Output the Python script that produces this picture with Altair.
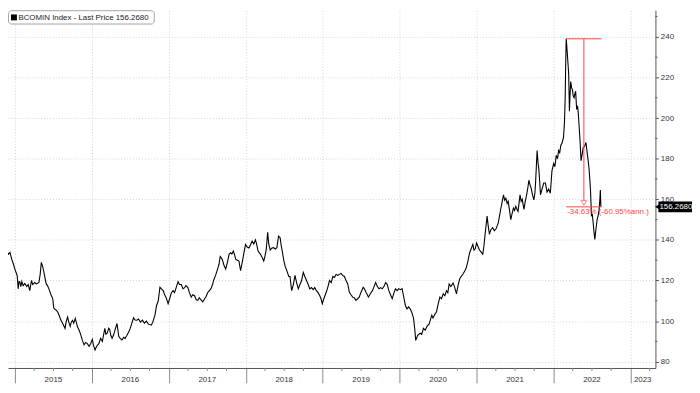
import altair as alt
import pandas as pd

# ---- data (decimal year, index level) ----
year_frac = [
    2014.807, 2014.833, 2014.859, 2014.893, 2014.914, 2014.936, 2014.958, 2014.981,
    2015.000, 2015.030, 2015.042, 2015.054, 2015.064, 2015.077, 2015.090, 2015.107,
    2015.128, 2015.154, 2015.173, 2015.193, 2015.215, 2015.231, 2015.257, 2015.279,
    2015.312, 2015.328, 2015.343, 2015.360, 2015.373, 2015.392, 2015.407, 2015.424,
    2015.450, 2015.469, 2015.492, 2015.504, 2015.514, 2015.533, 2015.556, 2015.578,
    2015.597, 2015.621, 2015.651, 2015.668, 2015.685, 2015.700, 2015.719, 2015.732,
    2015.749, 2015.764, 2015.784, 2015.797, 2015.813, 2015.835, 2015.857, 2015.877,
    2015.899, 2015.919, 2015.942, 2015.964, 2015.985, 2016.006, 2016.021, 2016.041,
    2016.060, 2016.092, 2016.114, 2016.137, 2016.156, 2016.169, 2016.182, 2016.199,
    2016.220, 2016.233, 2016.246, 2016.263, 2016.285, 2016.304, 2016.327, 2016.340,
    2016.349, 2016.368, 2016.391, 2016.413, 2016.432, 2016.456, 2016.477, 2016.499,
    2016.520, 2016.542, 2016.561, 2016.584, 2016.606, 2016.632, 2016.657, 2016.683,
    2016.709, 2016.734, 2016.773, 2016.792, 2016.820, 2016.841, 2016.863, 2016.885,
    2016.901, 2016.927, 2016.946, 2016.966, 2016.991, 2017.011, 2017.034, 2017.056,
    2017.075, 2017.098, 2017.120, 2017.139, 2017.162, 2017.184, 2017.206, 2017.223,
    2017.248, 2017.268, 2017.291, 2017.312, 2017.334, 2017.357, 2017.377, 2017.396,
    2017.419, 2017.441, 2017.463, 2017.483, 2017.505, 2017.527, 2017.548, 2017.569,
    2017.582, 2017.608, 2017.634, 2017.653, 2017.668, 2017.685, 2017.698, 2017.717,
    2017.740, 2017.762, 2017.784, 2017.805, 2017.820, 2017.839, 2017.856, 2017.869,
    2017.891, 2017.912, 2017.933, 2017.955, 2017.977, 2017.997, 2018.019, 2018.041,
    2018.061, 2018.083, 2018.105, 2018.126, 2018.141, 2018.160, 2018.190, 2018.212,
    2018.234, 2018.250, 2018.267, 2018.285, 2018.299, 2018.318, 2018.340, 2018.362,
    2018.383, 2018.405, 2018.426, 2018.447, 2018.462, 2018.478, 2018.494, 2018.511,
    2018.542, 2018.559, 2018.575, 2018.597, 2018.619, 2018.640, 2018.661, 2018.683,
    2018.704, 2018.726, 2018.748, 2018.768, 2018.790, 2018.812, 2018.832, 2018.854,
    2018.876, 2018.897, 2018.918, 2018.940, 2018.961, 2018.979, 2018.995, 2019.015,
    2019.034, 2019.047, 2019.069, 2019.089, 2019.111, 2019.133, 2019.153, 2019.175,
    2019.197, 2019.218, 2019.240, 2019.259, 2019.282, 2019.304, 2019.326, 2019.346,
    2019.368, 2019.390, 2019.410, 2019.432, 2019.454, 2019.475, 2019.496, 2019.526,
    2019.541, 2019.561, 2019.580, 2019.595, 2019.619, 2019.647, 2019.667, 2019.689,
    2019.711, 2019.732, 2019.753, 2019.775, 2019.796, 2019.818, 2019.840, 2019.860,
    2019.882, 2019.904, 2019.924, 2019.946, 2019.968, 2019.989, 2020.010, 2020.032,
    2020.053, 2020.075, 2020.096, 2020.117, 2020.139, 2020.161, 2020.181, 2020.197,
    2020.209, 2020.235, 2020.267, 2020.287, 2020.310, 2020.332, 2020.357, 2020.383,
    2020.418, 2020.434, 2020.460, 2020.479, 2020.502, 2020.524, 2020.544, 2020.567,
    2020.588, 2020.610, 2020.627, 2020.644, 2020.666, 2020.695, 2020.717, 2020.739,
    2020.759, 2020.781, 2020.800, 2020.824, 2020.845, 2020.867, 2020.888, 2020.910,
    2020.929, 2020.952, 2020.967, 2020.983, 2021.000, 2021.016, 2021.038, 2021.060,
    2021.081, 2021.096, 2021.111, 2021.137, 2021.151, 2021.167, 2021.186, 2021.209,
    2021.231, 2021.253, 2021.269, 2021.282, 2021.299, 2021.317, 2021.334, 2021.350,
    2021.366, 2021.381, 2021.398, 2021.411, 2021.427, 2021.445, 2021.462, 2021.479,
    2021.494, 2021.510, 2021.526, 2021.539, 2021.552, 2021.565, 2021.580, 2021.594,
    2021.607, 2021.616, 2021.633, 2021.651, 2021.668, 2021.680, 2021.696, 2021.710,
    2021.728, 2021.745, 2021.758, 2021.767, 2021.777, 2021.787, 2021.799, 2021.809,
    2021.822, 2021.831, 2021.851, 2021.873, 2021.895, 2021.916, 2021.937, 2021.959,
    2021.980, 2022.002, 2022.018, 2022.036, 2022.053, 2022.066, 2022.081, 2022.095,
    2022.113, 2022.130, 2022.143, 2022.152, 2022.158, 2022.165, 2022.172, 2022.181,
    2022.190, 2022.198, 2022.207, 2022.216, 2022.224, 2022.235, 2022.246, 2022.256,
    2022.268, 2022.278, 2022.288, 2022.301, 2022.313, 2022.323, 2022.333, 2022.345,
    2022.358, 2022.372, 2022.387, 2022.404, 2022.422, 2022.442, 2022.454, 2022.464,
    2022.481, 2022.494, 2022.503, 2022.516, 2022.526, 2022.537, 2022.551, 2022.567,
    2022.580, 2022.593, 2022.603, 2022.609, 2022.616,
]

price = [
    132.0, 134.0, 133.2, 134.5, 132.9, 133.8, 130.5, 128.0,
    125.6, 122.3, 115.9, 119.5, 119.3, 117.0, 119.5, 117.5,
    118.5, 117.0, 118.0, 115.0, 120.0, 118.0, 119.0, 118.3,
    119.0, 123.0, 128.9, 127.0, 124.8, 121.0, 118.3, 117.5,
    115.0, 113.0, 111.0, 106.5, 106.0, 105.5, 104.5, 102.5,
    100.5, 98.8, 96.4, 100.0, 102.0, 99.5, 97.4, 99.5,
    100.4, 99.0, 101.3, 99.5, 97.2, 95.5, 93.1, 90.5,
    88.3, 89.5, 88.9, 87.5, 89.0, 91.0, 88.0, 85.8,
    87.5, 89.0, 91.5, 90.0, 94.0, 96.4, 93.5, 94.0,
    96.5, 95.8, 93.0, 91.5, 93.5, 96.0, 98.8, 95.0,
    92.5, 91.5, 90.7, 92.0, 91.5, 93.0, 94.5, 96.4,
    99.0, 101.6, 100.5, 100.4, 101.0, 99.5, 100.5, 99.0,
    100.0, 98.5, 98.0, 99.5, 102.9, 107.7, 110.0, 116.7,
    116.0, 115.0, 113.0, 111.5, 108.6, 111.0, 114.0, 115.0,
    114.0, 116.7, 119.4, 118.0, 118.0, 116.0, 116.5, 117.5,
    116.5, 114.0, 111.8, 113.0, 112.5, 110.5, 110.2, 111.5,
    110.5, 109.5, 110.8, 112.0, 114.0, 115.0, 116.0, 118.0,
    120.0, 122.5, 125.6, 128.0, 131.8, 131.0, 130.0, 127.5,
    125.6, 129.0, 133.0, 133.7, 133.0, 134.5, 132.5, 130.5,
    130.0, 129.6, 124.8, 129.0, 133.7, 137.8, 136.5, 136.0,
    137.5, 139.4, 138.0, 140.0, 138.0, 134.5, 133.0, 131.5,
    129.6, 132.0, 135.3, 143.8, 138.0, 135.0, 136.0, 136.2,
    135.5, 136.2, 141.8, 141.0, 137.0, 133.7, 130.0, 127.2,
    124.0, 122.0, 122.0, 115.0, 118.0, 122.5, 119.0, 115.9,
    118.0, 120.0, 124.0, 122.0, 120.0, 118.0, 115.9, 116.5,
    115.5, 116.5, 115.0, 114.0, 112.6, 111.0, 108.6, 111.0,
    113.0, 114.3, 117.0, 120.0, 119.0, 122.0, 121.5, 123.0,
    122.5, 123.0, 123.5, 122.5, 122.0, 120.0, 118.3, 114.3,
    113.0, 111.8, 111.5, 110.2, 111.0, 111.8, 114.0, 116.7,
    116.0, 114.3, 113.0, 111.8, 113.5, 115.0, 117.0, 119.0,
    117.0, 115.9, 116.5, 115.9, 117.0, 119.0, 118.0, 115.0,
    113.0, 111.0, 113.5, 115.9, 115.0, 116.0, 115.5, 116.0,
    112.0, 107.7, 106.0, 107.0, 106.0, 104.0, 101.3, 96.0,
    90.5, 93.0, 94.0, 93.5, 96.4, 95.5, 97.5, 98.5,
    102.9, 101.5, 103.5, 104.5, 108.6, 111.8, 111.0, 113.4,
    112.5, 115.0, 114.0, 118.3, 117.0, 118.8, 116.5, 113.4,
    117.5, 120.7, 122.0, 123.2, 124.5, 126.4, 129.5, 133.7,
    135.5, 137.8, 135.0, 135.6, 138.5, 137.0, 135.0, 134.0,
    133.0, 137.0, 142.8, 151.7, 147.0, 142.8, 145.0, 146.0,
    144.5, 145.5, 147.0, 148.4, 152.0, 155.7, 159.0, 162.2,
    159.5, 160.5, 158.0, 159.0, 155.0, 150.0, 153.0, 155.7,
    154.5, 156.5, 155.0, 154.0, 158.0, 162.2, 159.0, 160.0,
    157.0, 155.0, 159.0, 162.2, 166.0, 169.4, 167.0, 165.5,
    162.0, 159.7, 163.0, 168.0, 176.0, 184.0, 178.0, 175.0,
    168.0, 162.2, 165.0, 168.0, 168.0, 163.5, 165.0, 163.0,
    174.0, 177.6, 176.0, 181.6, 180.0, 184.0, 183.0, 186.5,
    188.0, 190.5, 198.0, 210.0, 225.0, 239.1, 236.0, 231.0,
    226.0, 221.3, 203.4, 212.0, 218.0, 215.0, 214.0, 211.0,
    210.0, 212.0, 213.2, 204.3, 206.0, 202.0, 196.0, 189.0,
    179.0, 182.0, 185.6, 186.0, 188.0, 181.6, 178.0, 174.3,
    164.6, 151.6, 153.0, 148.4, 144.0, 140.2, 145.0, 150.0,
    152.0, 154.8, 160.0, 164.6, 156.268,
]

year_ticks = [2015, 2016, 2017, 2018, 2019, 2020, 2021, 2022, 2023]
quarter_ticks = [y + q / 4 for y in range(2015, 2023) for q in (1, 2, 3)] + [2023.25]
year_labels = ["2015", "2016", "2017", "2018", "2019", "2020", "2021", "2022", "2023"]
year_label_pos = [2015.5, 2016.5, 2017.5, 2018.5, 2019.5, 2020.5, 2021.5, 2022.5, 2023.16]
y_ticks = [80, 100, 120, 140, 160, 180, 200, 220, 240]
y_minor = [90, 110, 130, 150, 170, 190, 210, 230, 250]

legend_label = "BCOMIN Index - Last Price 156.2680"
last_price = 156.268
last_label = "156.2680"
peak_date, end_date, mid_date = 2022.165, 2022.625, 2022.395
peak_value = 239.05
arrow_value = 158.2
change_label = "-34.63% (-60.95%ann.)"

W, H = 655, 362
RED = "#ff4545"
FONT = "Liberation Sans"

xscale = alt.Scale(domain=[2014.910, 2023.325], nice=False, zero=False)
yscale = alt.Scale(domain=[76.9, 253.15], nice=False, zero=False)
xaxis = alt.Axis(values=year_ticks, labels=False, tickSize=15, tickColor="#8a8a8a",
                 domainColor="#555555", grid=True, gridColor="#cdd5df", gridDash=[1, 2],
                 title=None, orient="bottom")
yaxis = alt.Axis(orient="right", values=y_ticks, tickSize=3, tickColor="#555555",
                 domainColor="#555555", labelFont=FONT, labelFontSize=8, labelColor="#333333",
                 labelPadding=2, grid=True, gridColor="#cdd5df", gridDash=[1, 2], title=None)


def X(f="t"):
    return alt.X(f"{f}:Q", scale=xscale, axis=xaxis)


def Y(f="v"):
    return alt.Y(f"{f}:Q", scale=yscale, axis=yaxis)


series = pd.DataFrame({"t": year_frac, "v": price})
one = pd.DataFrame({"a": [0]})

line = alt.Chart(series).mark_line(color="black", strokeWidth=1.1, clip=True).encode(x=X(), y=Y())

red_df = pd.DataFrame({
    "t": [peak_date, peak_date, mid_date],
    "t2": [end_date, end_date, mid_date],
    "v": [peak_value, last_price, peak_value],
    "v2": [peak_value, last_price, arrow_value + 1.4],
})
red_rules = alt.Chart(red_df).mark_rule(color=RED, strokeWidth=1).encode(
    x=X(), x2=alt.X2("t2"), y=Y(), y2=alt.Y2("v2"))
red_arrow = alt.Chart(pd.DataFrame({"t": [mid_date], "v": [arrow_value]})).mark_point(
    shape="triangle-down", filled=False, color=RED, size=30, strokeWidth=1).encode(x=X(), y=Y())
red_text = alt.Chart(pd.DataFrame({"t": [peak_date], "v": [last_price], "label": [change_label]})).mark_text(
    align="left", baseline="middle", dx=1, dy=5, fontSize=8, font=FONT, color=RED).encode(
    x=X(), y=Y(), text="label:N")

minor_y = alt.Chart(pd.DataFrame({"v": y_minor})).mark_rule(color="#555555").encode(
    x=alt.value(W), x2=alt.value(W + 2), y=Y())
minor_x = alt.Chart(pd.DataFrame({"t": quarter_ticks})).mark_rule(color="#8a8a8a").encode(
    x=X(), y=alt.value(H), y2=alt.value(H + 3))
year_text = alt.Chart(pd.DataFrame({"t": year_label_pos, "label": year_labels})).mark_text(
    baseline="middle", align="center", fontSize=8, font=FONT, color="#333333").encode(
    x=X(), y=alt.value(H + 12), text="label:N")

last_df = pd.DataFrame({"v": [last_price], "top": [last_price + 2.7], "bot": [last_price - 2.7],
                        "label": [last_label]})
last_box = alt.Chart(last_df).mark_rect(color="black").encode(
    x=alt.value(W + 3), x2=alt.value(W + 37), y=Y("top"), y2=alt.Y2("bot"))
last_tip = alt.Chart(last_df).mark_point(shape="triangle-left", filled=True, color="black",
                                          size=45, opacity=1).encode(x=alt.value(W + 2.5), y=Y())
last_text = alt.Chart(last_df).mark_text(align="left", baseline="middle", fontSize=8, font=FONT,
                                         color="white").encode(
    x=alt.value(W + 4), y=Y(), text="label:N")

legend_box = alt.Chart(one).mark_rect(fill="white", stroke="#a5a5a5", strokeWidth=1,
                                      cornerRadius=3).encode(
    x=alt.value(0.5), x2=alt.value(148), y=alt.value(0.5), y2=alt.value(14))
legend_sq = alt.Chart(one).mark_square(size=36, color="black", filled=True, opacity=1).encode(
    x=alt.value(6), y=alt.value(7.3))
legend_txt = alt.Chart(one).mark_text(align="left", baseline="middle", fontSize=8, font=FONT,
                                      color="#222222").encode(
    x=alt.value(10.5), y=alt.value(7.5), text=alt.value(legend_label))

chart = alt.layer(
    line, red_rules, red_arrow, red_text, minor_y, minor_x, year_text,
    last_box, last_tip, last_text, legend_box, legend_sq, legend_txt,
).properties(
    width=W, height=H,
    autosize=alt.AutoSizeParams(type="none"),
    padding={"left": 0, "top": 0, "right": 37, "bottom": 15},
    background="white",
).configure_view(strokeWidth=0)

chart.save("out.html", embed_options={"renderer": "svg", "actions": False})
